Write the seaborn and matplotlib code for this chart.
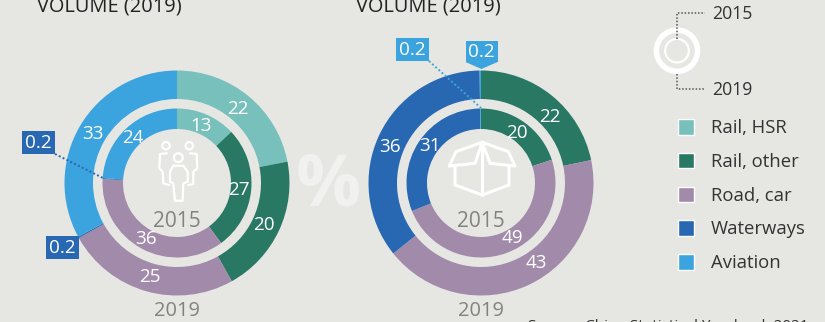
import numpy as np
import matplotlib
matplotlib.use("Agg")
import matplotlib.pyplot as plt
from matplotlib.patches import Patch, Polygon, Circle, Rectangle
import seaborn as sns

# ---- data ----
modes = ["Rail, HSR", "Rail, other", "Road, car", "Waterways", "Aviation"]
pax_2015 = [13, 27, 36, 0.2, 24]
pax_2019 = [22, 20, 25, 0.2, 33]
freight_2015 = [0, 20, 49, 31, 0.2]
freight_2019 = [0, 22, 43, 36, 0.2]
title_text = "VOLUME (2019)"
source_text = "Source: China Statistical Yearbook 2021"
year_labels = ["2015", "2019"]

# ---- style ----
BG = "#E6E7E3"
colors = ["#78C0BC", "#297864", "#A28AAA", "#2868B2", "#3BA4DF"]
sns.set_theme(style="white")
plt.rcParams["font.family"] = ["Open Sans", "DejaVu Sans"]
palette = sns.color_palette(colors)

W, H = 825, 322
fig = plt.figure(figsize=(W / 100, H / 100), dpi=100, facecolor=BG)

# y-up axes for the pies
pax = fig.add_axes([0, 0, 1, 1])
pax.set_xlim(0, W)
pax.set_ylim(0, H)
pax.set_axis_off()


def fy(y):
    return H - y


def ring(values, cx, cy, radius, width, lab_r, shifts=None):
    wedges, _ = pax.pie(values, colors=palette, startangle=90, counterclock=False,
                        radius=radius, center=(cx, fy(cy)), frame=True,
                        wedgeprops=dict(width=width, linewidth=0))
    shifts = shifts or {}
    for i, (w, v) in enumerate(zip(wedges, values)):
        if v < 1:
            continue
        mid = np.deg2rad((w.theta1 + w.theta2) / 2 + shifts.get(i, 0))
        pax.text(cx + lab_r * np.cos(mid) - 1, fy(cy) + lab_r * np.sin(mid) - 1, f"{v:g}",
                 color="white", fontsize=13.6, ha="center", va="center")


CX1, CX2, CY = 177, 481, 183
ring(pax_2019, CX1, CY, 112.5, 28.5, 97)
ring(pax_2015, CX1, CY, 74.5, 20.5, 63)
ring(freight_2019, CX2, CY, 112.5, 28.5, 97, {1: -7, 2: 10, 3: 3})
ring(freight_2015, CX2, CY, 74.5, 20.5, 63, {2: 11, 3: -4})
pax.set_xlim(0, W)
pax.set_ylim(0, H)
pax.set_aspect("auto")
pax.set_axis_off()

# top layer for annotations, y downward in picture pixels
top = fig.add_axes([0, 0, 1, 1])
top.set_xlim(0, W)
top.set_ylim(H, 0)
top.set_axis_off()
top.patch.set_alpha(0)

# titles and source (cut by the canvas as in the reference)
for x in (37, 356):
    top.text(x, 6.5, title_text, fontsize=14.4, color="#222222", ha="left", va="center", clip_on=False)
top.text(528, 326, source_text, fontsize=11, color="#333333", ha="left", va="center")

# big percent sign
top.text(328, 186, "%", fontsize=52, fontweight="bold", color="#F1F2F0", ha="center", va="center")

# year labels
GREY = "#82827E"
for cx in (CX1, CX2):
    top.text(cx, 221, year_labels[0], fontsize=15, color=GREY, ha="center", va="center")
    top.text(cx, 311, year_labels[1], fontsize=14.4, color=GREY, ha="center", va="center")


# callouts
def callout(x, y, w, h, col, target=None, pointer=None):
    top.add_patch(Rectangle((x, y), w, h, color=col, lw=0))
    top.text(x + w / 2, y + h / 2 + 0.5, "0.2", color="white", fontsize=13.6, ha="center", va="center")
    if target:
        top.plot([target[0], target[1]], [target[2], target[3]], color=col, lw=1.4, ls=(0, (1, 1.2)))
    if pointer:
        top.add_patch(Polygon([(x, y + h), (x + w, y + h), pointer], color=col, lw=0))


callout(22, 131, 33, 23, colors[3], (55, 103, 154, 178))
callout(46, 236, 33, 23, colors[3])
callout(396, 38, 33, 23, colors[4], (429, 481, 61, 108))
callout(465.5, 41, 32, 21, colors[4], pointer=(481.5, 69))

# people icon
lw_icon = 1.6
for x, y, r in [(166, 145.7, 3.7), (189.3, 145.7, 3.7), (178.3, 157.7, 4.4)]:
    top.add_patch(Circle((x, y), r, fill=False, ec="white", lw=lw_icon))
people = [
    [(173.3, 165.7), (183.3, 165.7), (187.7, 171.7), (187.7, 181.7), (183.3, 183.3), (182.7, 200.7),
     (175, 200.7), (173.3, 183.3), (170, 181.7), (170, 171.7), (173.3, 165.7)],
    [(166.7, 153.3), (160, 154), (159.3, 168.3), (162.7, 171.7), (163.3, 183.3), (169.3, 185)],
    [(190, 153.3), (196.7, 154), (197.3, 168.3), (193.3, 171.7), (193.3, 184), (188.3, 185)],
]
for seg in people:
    top.plot(*zip(*seg), color="white", lw=lw_icon, solid_joinstyle="round", solid_capstyle="round")

# box icon
lw_box = 2.2
box = [
    [(449.3, 166), (456, 151.7), (482.3, 142.3), (508.3, 151.7), (515, 166), (490, 163.3),
     (482.3, 142.3), (475, 163.3), (449.3, 166)],
    [(455, 166.7), (455, 185), (482.3, 195), (509, 185), (509, 166.7)],
    [(482.3, 142.3), (482.3, 195)],
]
for seg in box:
    top.plot(*zip(*seg), color="white", lw=lw_box, solid_joinstyle="round", solid_capstyle="round")

# ring key
kx, ky = 677, 50.7
top.add_patch(Circle((kx, ky), 20.6, fill=False, ec="white", lw=4.0))
top.add_patch(Circle((kx, ky), 11.8, fill=False, ec="white", lw=1.5))
dots = dict(color="#555555", lw=1.1, ls=(0, (1, 1.2)))
top.plot([kx, kx, 705], [39, 13, 13], **dots)
top.plot([kx, kx, 705], [74, 89, 89], **dots)
top.text(712, 14, year_labels[0], fontsize=12.7, color="#333333", ha="left", va="center")
top.text(712, 90, year_labels[1], fontsize=12.7, color="#333333", ha="left", va="center")

# legend
handles = [Patch(facecolor=c, edgecolor="white", linewidth=1.0) for c in palette]
leg = top.legend(handles, modes, loc="upper left", bbox_to_anchor=(677.5 / W, 1 - 119 / H),
                 frameon=False, fontsize=13.3, labelcolor="#333333", handlelength=0.92, handleheight=0.92,
                 handletextpad=0.87, labelspacing=0.845, borderpad=0, borderaxespad=0)

fig.savefig("out.png", dpi=100, facecolor=BG)
